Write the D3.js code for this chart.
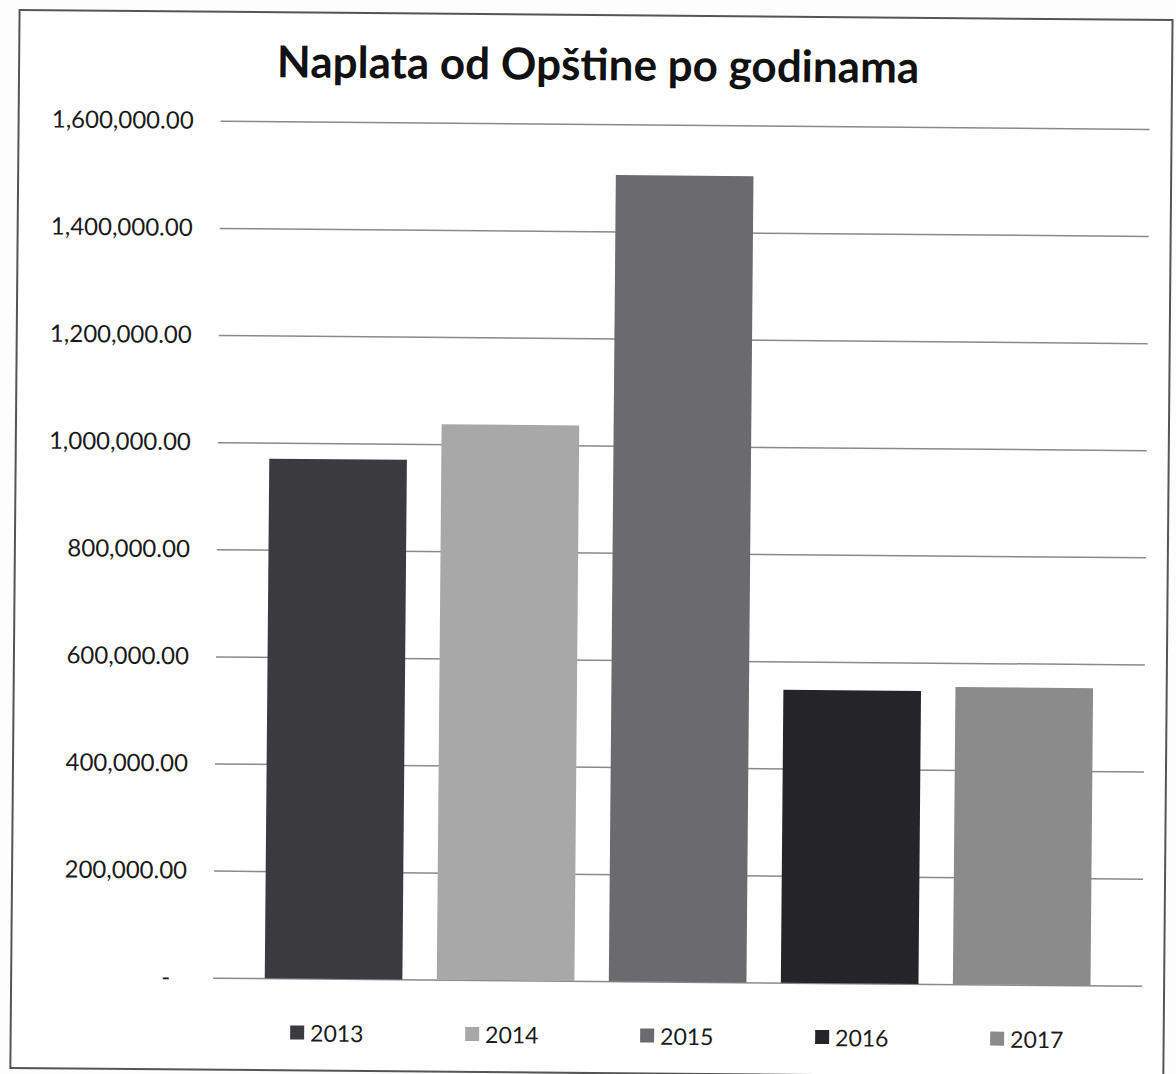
<!DOCTYPE html>
<html>
<head>
<meta charset="utf-8">
<script src="https://cdn.jsdelivr.net/npm/d3@7"></script>
<style>
  html, body { margin: 0; padding: 0; background: #ffffff; }
  svg { display: block; }
</style>
</head>
<body>
<script>
// ---- data ----
const categories = ["2013", "2014", "2015", "2016", "2017"];
const values = [970000, 1037000, 1505000, 547000, 555000];
const colors = ["#3b3a3e", "#a9a8a8", "#6b6a6c", "#252527", "#8c8b8c"];
const tickValues = [0, 200000, 400000, 600000, 800000, 1000000, 1200000, 1400000, 1600000];
const title = "Naplata od Opštine po godinama";

const W = 1176, H = 1074;
const svg = d3.select("body").append("svg").attr("width", W).attr("height", H);
svg.append("rect").attr("width", W).attr("height", H).attr("fill", "#fdfdfd");

// whole scanned page is slightly rotated
const g = svg.append("g").attr("transform", "rotate(0.5, 588, 537)");

// outer border
g.append("rect")
  .attr("x", 15).attr("y", 15).attr("width", 1153).attr("height", 1058)
  .attr("fill", "#ffffff").attr("stroke", "#555555").attr("stroke-width", 2);

const plot = { left: 217, right: 1146, top: 124, bottom: 981 };

const x = d3.scaleBand().domain(categories)
  .range([plot.left, plot.right]).paddingInner(0.2).paddingOuter(0.3);
const y = d3.scaleLinear().domain([0, 1600000]).range([plot.bottom, plot.top]);

// title
g.append("text")
  .attr("x", 594).attr("y", 80)
  .attr("text-anchor", "middle")
  .attr("font-family", "Lato, 'Open Sans', sans-serif")
  .attr("font-weight", "bold")
  .attr("font-size", 44)
  .attr("fill", "#111111")
  .text(title);

// y axis with gridlines
const fmt = d3.format(",.2f");
const yAxis = d3.axisLeft(y)
  .tickValues(tickValues)
  .tickSize(-(plot.right - plot.left))
  .tickPadding(27)
  .tickFormat(d => d === 0 ? "-" : fmt(d));

const ax = g.append("g")
  .attr("transform", `translate(${plot.left},0)`)
  .call(yAxis);
ax.select(".domain").remove();
ax.selectAll(".tick line").attr("stroke", "#8a8a8a").attr("stroke-width", 1.5);
ax.selectAll(".tick text")
  .attr("font-family", "Lato, 'Open Sans', sans-serif")
  .attr("font-size", 24)
  .attr("fill", "#1a1a1a")
  .attr("dx", d => d === 0 ? -16 : 0);

// bars
g.append("g").selectAll("rect")
  .data(categories)
  .join("rect")
  .attr("x", d => x(d))
  .attr("width", x.bandwidth())
  .attr("y", (d, i) => y(values[i]))
  .attr("height", (d, i) => y(0) - y(values[i]))
  .attr("fill", (d, i) => colors[i]);

// legend
const legendStep = 175;
const legendCenter = (plot.left + plot.right) / 2;
const legend = g.append("g");
const items = legend.selectAll("g")
  .data(categories)
  .join("g")
  .attr("transform", (d, i) => `translate(${legendCenter + (i - 2) * legendStep - 37},1035)`);
items.append("rect")
  .attr("x", 0).attr("y", -7).attr("width", 14).attr("height", 14)
  .attr("fill", (d, i) => colors[i]);
items.append("text")
  .attr("x", 20).attr("y", 9)
  .attr("font-family", "Lato, 'Open Sans', sans-serif")
  .attr("font-size", 23)
  .attr("fill", "#1a1a1a")
  .text(d => d);
</script>
</body>
</html>
